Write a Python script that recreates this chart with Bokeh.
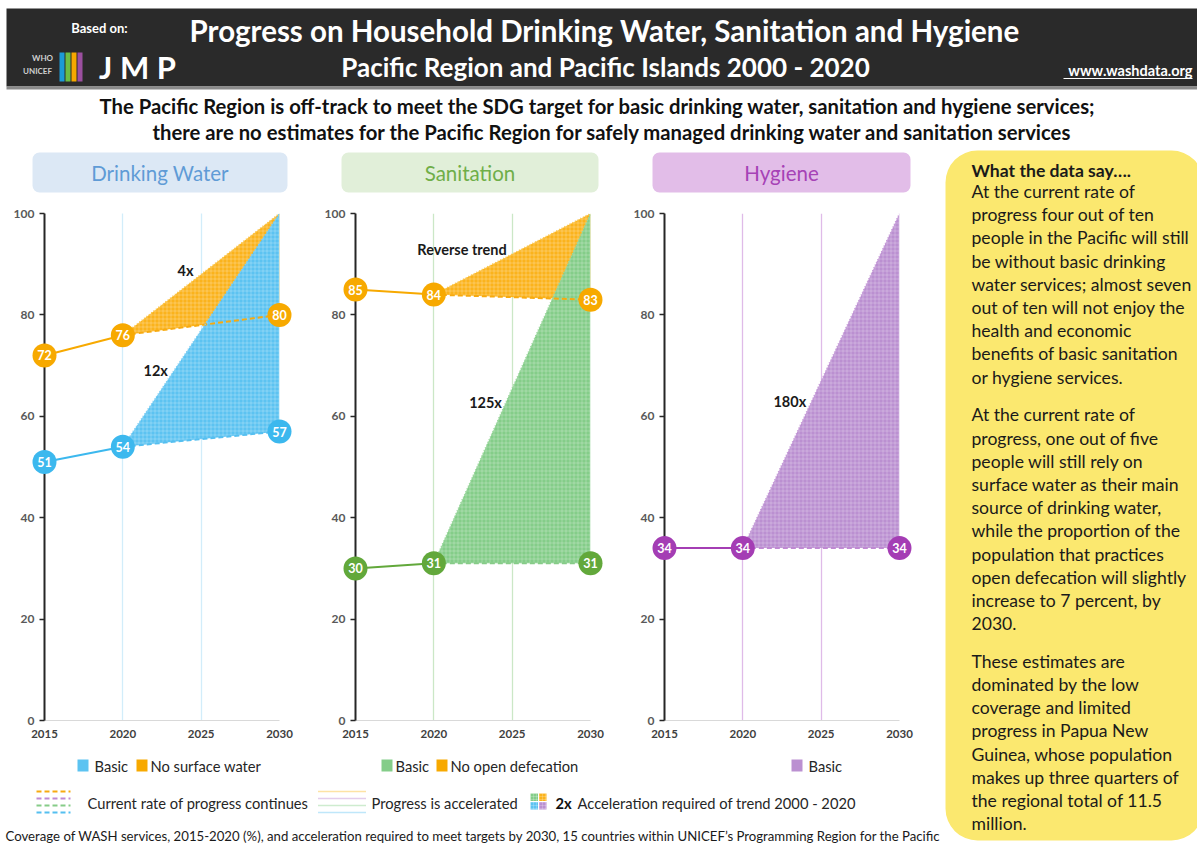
from bokeh.plotting import figure
from bokeh.layouts import column, row
from bokeh.models import Range1d, FixedTicker, Label, BoxAnnotation
from bokeh.core.properties import value
from bokeh.embed import file_html
from bokeh.resources import INLINE

FONT = "Lato"

# ---------------- data ----------------
years = [2015, 2020, 2030]
target = 100
dw_basic = [51, 54, 57]
dw_no_surface = [72, 76, 80]
san_basic = [30, 31, 31]
san_no_open_def = [85, 84, 83]
hyg_basic = [34, 34, 34]
x_ticks = [2015, 2020, 2025, 2030]
y_ticks = [0, 20, 40, 60, 80, 100]

dw_notes = ["4x", "12x"]
dw_note_x = [2024.0, 2022.1]
dw_note_y = [88.7, 69.0]
san_notes = ["Reverse trend", "125x"]
san_note_x = [2021.8, 2023.3]
san_note_y = [92.9, 62.7]
hyg_notes = ["180x"]
hyg_note_x = [2023.0]
hyg_note_y = [62.9]

panel_titles = ["Drinking Water", "Sanitation", "Hygiene"]

# colours: (area, marker, dashed, dotted)
BLUE = ("#5cc3f1", "#3cb8ee", "#55bff0", "#7fcff4")
ORANGE = ("#fbb31c", "#f7a900", "#f7aa10", "#fbc64a")
GREEN = ("#84cd89", "#62a83b", "#86cc88", "#9dd89e")
PURPLE = ("#bb90d1", "#a43db4", "#c08ad3", "#c79ad8")

TXT = "#262626"


def make_panel(series, notes, nx, ny, grid_color, grid_dash, width, left, right):
    p = figure(width=width, height=552, x_range=Range1d(2015, 2030), y_range=Range1d(0, 100),
               output_backend="svg", toolbar_location=None,
               min_border_left=left, min_border_right=right, min_border_top=13, min_border_bottom=32)
    p.outline_line_color = None
    p.background_fill_color = "white"
    p.ygrid.visible = False
    p.xgrid.ticker = FixedTicker(ticks=x_ticks[1:])
    p.xgrid.grid_line_color = grid_color
    p.xgrid.grid_line_dash = grid_dash
    p.xgrid.grid_line_width = 1.3

    xa = p.xaxis[0]
    xa.ticker = FixedTicker(ticks=x_ticks)
    xa.major_tick_out = 0
    xa.major_tick_in = 0
    xa.minor_tick_out = 0
    xa.minor_tick_in = 0
    xa.axis_line_color = "#d9d9d9"
    xa.major_label_text_font = FONT
    xa.major_label_text_font_style = "bold"
    xa.major_label_text_font_size = "11.5px"
    xa.major_label_text_color = "#404040"
    xa.major_label_standoff = 9

    ya = p.yaxis[0]
    ya.ticker = FixedTicker(ticks=y_ticks)
    ya.major_tick_out = 5
    ya.major_tick_in = 0
    ya.minor_tick_out = 0
    ya.minor_tick_in = 0
    ya.axis_line_color = "#262626"
    ya.axis_line_width = 2
    ya.major_tick_line_color = "#262626"
    ya.major_tick_line_width = 1.5
    ya.major_label_text_font = FONT
    ya.major_label_text_font_style = "bold"
    ya.major_label_text_font_size = "12px"
    ya.major_label_text_color = "#595959"
    ya.major_label_standoff = 5

    p.add_layout(Label(x=2015, y=50, x_offset=-30, text="%", text_font=FONT,
                       text_font_size="11px", text_font_style="bold", text_color="#595959",
                       text_align="center", text_baseline="middle"))

    # accelerated areas
    for vals, col in series:
        p.patch(x=[years[1], years[2], years[2]], y=[vals[1], target, vals[2]],
                fill_color=col[0], line_color=None,
                hatch_pattern="cross", hatch_color="white", hatch_alpha=0.35,
                hatch_scale=4, hatch_weight=0.7)
    for vals, col in series:
        p.line(x=[years[1], years[2]], y=[vals[1], target], line_color=col[3],
               line_width=1.6, line_dash="1 2")
        p.line(x=[years[1], years[2]], y=[vals[1], vals[2]], line_color=col[2],
               line_width=2, line_dash="5 3")
        p.line(x=years[:2], y=vals[:2], line_color=col[1], line_width=2)
    for vals, col in series:
        p.scatter(x=years, y=vals, size=24, fill_color=col[1], line_color=None, level="overlay")
        p.text(x=years, y=vals, text=[str(v) for v in vals], text_color="white",
               text_font=value(FONT), text_font_style="bold", text_font_size="12.5px",
               text_align="center", text_baseline="middle", level="overlay")
    p.text(x=nx, y=ny, text=notes, text_color="#1a1a1a", text_font=value(FONT),
           text_font_style="bold", text_font_size="14.5px", text_align="center",
           text_baseline="middle", level="overlay")
    return p


p1 = make_panel([(dw_no_surface, ORANGE), (dw_basic, BLUE)], dw_notes, dw_note_x, dw_note_y,
                "#a6dbf5", "1 1", 319, 44, 40)
p2 = make_panel([(san_no_open_def, ORANGE), (san_basic, GREEN)], san_notes, san_note_x, san_note_y,
                "#cbe7c6", "solid", 309, 36, 38)
p3 = make_panel([(hyg_basic, PURPLE)], hyg_notes, hyg_note_x, hyg_note_y,
                "#dfbbe8", "solid", 313, 36, 42)


# ---------------- decorative canvases ----------------
def canvas(w, h):
    p = figure(width=w, height=h, x_range=Range1d(0, w), y_range=Range1d(0, h),
               output_backend="svg", toolbar_location=None, min_border=0,
               x_axis_type=None, y_axis_type=None)
    p.outline_line_color = None
    p.background_fill_color = "white"
    return p


def put(p, x, y, s, size, color=TXT, bold=False, align="left"):
    h = p.height
    p.text(x=[x], y=[h - y], text=[s], text_font=value(FONT), text_font_size=f"{size}px",
           text_font_style="bold" if bold else "normal", text_color=color,
           text_align=align, text_baseline="middle")


def box(p, l, r, t, b, color, line=None, hatch=False):
    h = p.height
    kw = {}
    if hatch:
        kw = dict(hatch_pattern="cross", hatch_color="white", hatch_alpha=0.35,
                  hatch_scale=3, hatch_weight=0.6)
    p.quad(left=[l], right=[r], top=[h - t], bottom=[h - b], fill_color=color,
           line_color=line, **kw)


def rbox(p, l, r, t, b, color, radius):
    h = p.height
    p.add_layout(BoxAnnotation(left=l, right=r, top=h - t, bottom=h - b, border_radius=radius,
                               fill_color=color, fill_alpha=1, line_color=None, level="underlay"))


def hline(p, x0, x1, y, color, width, dash="solid"):
    h = p.height
    p.line(x=[x0, x1], y=[h - y, h - y], line_color=color, line_width=width, line_dash=dash)


# header
top = canvas(1197, 145)
box(top, 6, 1200, 8, 86, "#2a2a2a")
box(top, 6, 1200, 86, 89, "#8a8a8a")
put(top, 99, 27, "Based on:", 13, "white", True, "center")
put(top, 42, 57, "WHO", 8, "#cfcfcf", True, "center")
put(top, 37, 70, "UNICEF", 8, "#cfcfcf", True, "center")
for i, c in enumerate(["#1c9ad6", "#6cbd45", "#f6a800", "#9b4f9f"]):
    box(top, 59 + i * 6, 64 + i * 6, 52, 81, c)
put(top, 137, 66, "J M P", 31, "white", True, "center")
put(top, 604, 30, "Progress on Household Drinking Water, Sanitation and Hygiene", 29.5, "white", True, "center")
put(top, 605, 66, "Pacific Region and Pacific Islands 2000 - 2020", 26, "white", True, "center")
put(top, 1192, 70, "www.washdata.org", 14.5, "white", True, "right")
hline(top, 1063, 1192, 78, "white", 1)
put(top, 597, 105, "The Pacific Region is off-track to meet the SDG target for basic drinking water, sanitation and hygiene services;", 20.3, "#111111", True, "center")
put(top, 612, 131, "there are no estimates for the Pacific Region for safely managed drinking water and sanitation services", 20.3, "#111111", True, "center")

# panel titles
titles = canvas(941, 55)
title_style = [("#dce8f5", "#5f9bd6", 32, 287), ("#e1efd9", "#6fae48", 341, 598), ("#e2bde8", "#a642b6", 652, 910)]
for t, (bg, fg, l, r) in zip(panel_titles, title_style):
    rbox(titles, l, r, 7, 47, bg, 7)
    put(titles, (l + r) / 2, 27, t, 20.5, fg, False, "center")

# legends + footer
bottom = canvas(941, 95)
box(bottom, 77, 88, 7, 19, BLUE[0])
put(bottom, 94, 13, "Basic", 14.7)
box(bottom, 136, 147, 7, 19, ORANGE[1])
put(bottom, 150, 13, "No surface water", 14.7)
box(bottom, 381, 392, 7, 19, GREEN[0])
put(bottom, 395, 13, "Basic", 14.7)
box(bottom, 436, 447, 7, 19, ORANGE[1])
put(bottom, 450, 13, "No open defecation", 14.7)
box(bottom, 791, 802, 7, 19, PURPLE[0])
put(bottom, 808, 13, "Basic", 14.7)

for yy, c in zip([39, 46, 53, 60], [ORANGE[2], PURPLE[2], GREEN[2], BLUE[2]]):
    hline(bottom, 36, 70, yy, c, 1.8, "5 3")
put(bottom, 87, 50, "Current rate of progress continues", 14.7)
for yy, c in zip([39, 46, 53, 60], [ORANGE[3], PURPLE[3], GREEN[3], BLUE[3]]):
    hline(bottom, 318, 366, yy, c, 1.5, "1 1")
put(bottom, 371, 50, "Progress is accelerated", 14.7)
box(bottom, 530, 537.5, 41, 48.5, GREEN[0], hatch=True)
box(bottom, 538.5, 546, 41, 48.5, ORANGE[0], hatch=True)
box(bottom, 530, 537.5, 49.5, 57, BLUE[0], hatch=True)
box(bottom, 538.5, 546, 49.5, 57, PURPLE[0], hatch=True)
put(bottom, 555, 50, "2x", 14.7, "#111111", True)
put(bottom, 577, 50, "Acceleration required of trend 2000 - 2020", 14.7)
put(bottom, 5, 83, "Coverage of WASH services, 2015-2020 (%), and acceleration required to meet targets by 2030, 15 countries within UNICEF\u2019s Programming Region for the Pacific", 13.2, "#1a1a1a")

# text box
side = canvas(256, 702)
rbox(side, 4, 262, 5, 695, "#fbe86f", 32)
put(side, 30, 25, "What the data say\u2026.", 17.6, "#1a1a1a", True)
paragraphs = [
    ["At the current rate of", "progress four out of ten", "people in the Pacific will still",
     "be without basic drinking", "water services; almost seven", "out of ten will not enjoy the",
     "health and economic", "benefits of basic sanitation", "or hygiene services."],
    ["At the current rate of", "progress, one out of five", "people will still rely on",
     "surface water as their main", "source of drinking water,", "while the proportion of the",
     "population that practices", "open defecation will slightly", "increase to 7 percent, by", "2030."],
    ["These estimates are", "dominated by the low", "coverage and limited", "progress in Papua New",
     "Guinea, whose population", "makes up three quarters of", "the regional total of 11.5", "million."],
]
yy = 46
for para in paragraphs:
    for line in para:
        put(side, 30, yy, line, 17.6, "#1a1a1a")
        yy += 23.2
    yy += 14.5

left = column(titles, row(p1, p2, p3), bottom)
layout = column(top, row(left, side))

open("out.html", "w").write(file_html(layout, INLINE))
